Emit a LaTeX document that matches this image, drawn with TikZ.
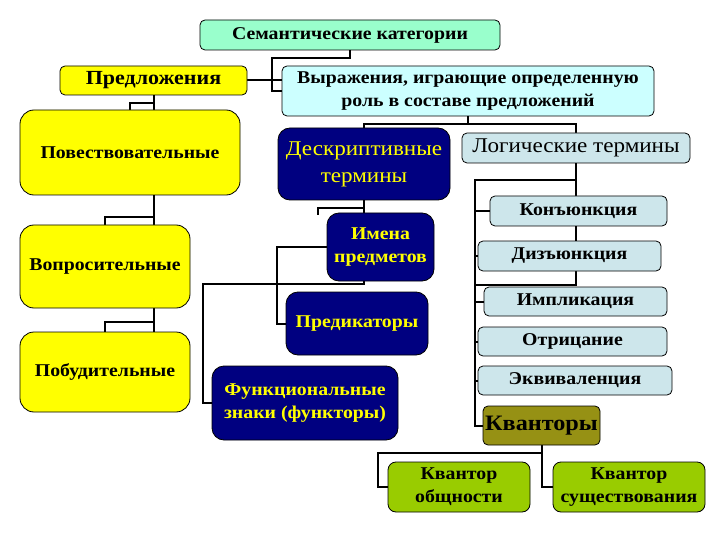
\documentclass[tikz,border=0pt]{standalone}
\usepackage{fontspec}
\setmainfont[FakeStretch=1.1]{Liberation Serif}
\usetikzlibrary{calc,backgrounds}

\definecolor{semfill}{RGB}{153,255,204}
\definecolor{vyrfill}{RGB}{204,255,255}
\definecolor{sentyellow}{RGB}{255,255,0}
\definecolor{navyfill}{RGB}{0,0,128}
\definecolor{logfill}{RGB}{205,230,235}
\definecolor{kvantfill}{RGB}{150,145,20}
\definecolor{kvgreen}{RGB}{153,204,0}

\tikzset{
    box/.style={draw=black, line width=0.8pt, rounded corners=5pt, align=center,
        inner sep=1pt, font=\bfseries\fontsize{18}{23}\selectfont},
    semibox/.style={box, fill=semfill},
    vyrbox/.style={box, fill=vyrfill},
    sentbox/.style={box, fill=sentyellow, rounded corners=14pt},
    navybox/.style={box, fill=navyfill, text=sentyellow, rounded corners=12pt},
    logbox/.style={box, fill=logfill},
    kvbox/.style={box, fill=kvgreen, rounded corners=8pt},
    link/.style={line width=2pt, black}
}

\begin{document}
\begin{tikzpicture}[x=1pt, y=-1pt]
    \useasboundingbox (0,0) rectangle (720,540);

    % top level
    \node[semibox, minimum width=300, minimum height=30] (sem) at (350,35) {Семантические категории};
    \node[sentbox, rounded corners=5pt, minimum width=187, minimum height=29,
        font=\bfseries\fontsize{20}{24}\selectfont] (predl) at (153.5,80.5) {Предложения};
    \node[vyrbox, minimum width=372, minimum height=50] (vyr) at (468,91)
        {Выражения, играющие определенную\\роль в составе предложений};

    % sentence kinds
    \node[sentbox, minimum width=220, minimum height=85] (povest) at (130,152.5) {Повествовательные};
    \node[sentbox, minimum width=170, minimum height=83] (vopr) at (105,266.5) {Вопросительные};
    \node[sentbox, minimum width=170, minimum height=80] (pobud) at (105,372) {Побудительные};

    % descriptive terms
    \node[navybox, minimum width=172, minimum height=72,
        font=\fontsize{21}{27}\selectfont] (deskr) at (364,164) {Дескриптивные\\термины};
    \node[navybox, minimum width=107, minimum height=68] (imena) at (380.5,247) {Имена\\предметов};
    \node[navybox, minimum width=142, minimum height=63] (pred) at (357,323.5) {Предикаторы};
    \node[navybox, minimum width=186, minimum height=74] (funk) at (305,403)
        {Функциональные\\знаки (функторы)};

    % logical terms
    \node[logbox, minimum width=228, minimum height=30,
        font=\fontsize{21}{24}\selectfont] (log) at (576,148) {Логические термины};
    \node[logbox, minimum width=177, minimum height=30] (kon) at (578.5,211) {Конъюнкция};
    \node[logbox, minimum width=183, minimum height=30] (diz) at (569.5,256) {Дизъюнкция};
    \node[logbox, minimum width=183, minimum height=29] (impl) at (575.5,301.5) {Импликация};
    \node[logbox, minimum width=189, minimum height=29] (otr) at (572.5,341.5) {Отрицание};
    \node[logbox, minimum width=194, minimum height=29] (ekv) at (575,380.5) {Эквиваленция};

    % quantifiers
    \node[box, fill=kvantfill, minimum width=117, minimum height=39,
        font=\bfseries\fontsize{22}{24}\selectfont] (kvant) at (541.5,425.5) {Кванторы};
    \node[kvbox, minimum width=142, minimum height=50] (obsh) at (459,487) {Квантор\\общности};
    \node[kvbox, minimum width=152, minimum height=50] (sush) at (629,487) {Квантор\\существования};

    \coordinate (trunk) at ([xshift=-8pt]kvant.west);

    \begin{scope}[on background layer={link}]
        % top
        \draw (sem.south) -- ++(0,8) -| ([xshift=-10pt]vyr.west) -- (vyr.west);
        \draw (predl.east) -- (predl.east -| vyr.west);

        % sentences
        \draw (predl.south) -- ++(0,8) -| (povest.north);
        \draw (predl.south) -- (predl.south |- povest.north);
        \draw (predl.south |- povest.south) -- ++(0,22) -| (vopr.north);
        \draw (predl.south |- povest.south) -- (predl.south |- vopr.north);
        \draw (predl.south |- vopr.south) -- ++(0,14) -| (pobud.north);
        \draw (predl.south |- vopr.south) -- (predl.south |- pobud.north);

        % expressions
        \draw (vyr.south) -- ++(0,8) -| (deskr.north);
        \draw (vyr.south) -- ++(0,8) -| (log.north);

        % descriptive
        \draw (deskr.south) -- ([yshift=-3pt]deskr.south |- imena.south)
            -| ([xshift=-9pt]funk.west) -- (funk.west);
        \draw (deskr.south) ++(0,8) -- ++(-46,0) -- ++(0,7);
        \draw (imena.west) -- ++(-50,0) |- (pred.west);

        % logical
        \draw (log.south) -- ++(0,17) -| (trunk) -- (kvant.west);
        \draw (log.south) -- ([yshift=-14pt]log.south |- diz.south) -| (trunk);
        \foreach \op in {kon,diz,impl,otr,ekv}
            \draw (\op.west) -- (\op.west -| trunk);

        % quantifiers
        \draw (kvant.south) -- ++(0,8) -| ([xshift=-10pt]obsh.west) -- (obsh.west);
        \draw (kvant.south) |- (sush.west);
    \end{scope}
\end{tikzpicture}
\end{document}
